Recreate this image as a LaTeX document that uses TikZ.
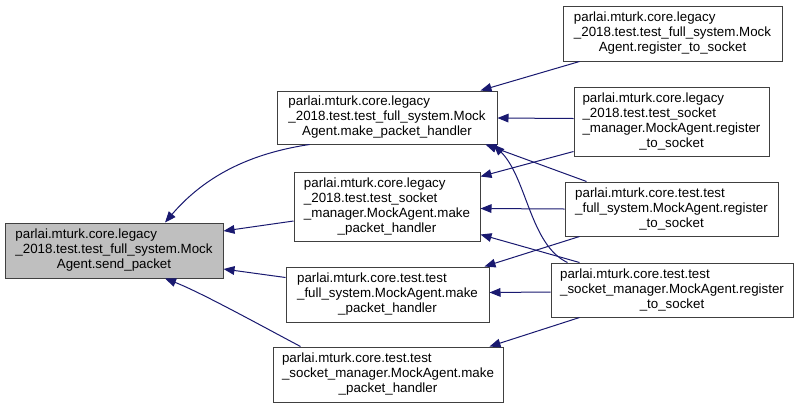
\documentclass[tikz,border=0pt]{standalone}
\usepackage{fontspec}
\setmainfont{Liberation Sans}
\usetikzlibrary{arrows.meta,calc}
\definecolor{edgeblue}{HTML}{191970}
\definecolor{boxline}{HTML}{404040}
\definecolor{boxfill}{HTML}{BFBFBF}
\newcommand{\labthree}[3]{\begin{tabular}{@{}l@{}}#1\\#2\\\multicolumn{1}{@{}c@{}}{#3}\end{tabular}}
\newcommand{\labfour}[4]{\begin{tabular}{@{}l@{}}#1\\#2\\#3\\\multicolumn{1}{@{}c@{}}{#4}\end{tabular}}
\begin{document}
\begin{tikzpicture}[x=0.75pt,y=-0.75pt,
  box/.style={draw=boxline, line width=0.75pt, fill=white, inner sep=0pt, anchor=center,
    font=\fontsize{10}{11.25}\selectfont},
  edge/.style={draw=edgeblue, line width=0.75pt, -{Triangle[length=8.25pt,width=6.5pt]}, fill=none}]
\useasboundingbox (0,0) rectangle (799,408);
\fill[white] (0,0) rectangle (799,408);

\node[box, fill=boxfill, minimum width=163.5pt, minimum height=41.25pt] (A) at (114,250.5)
  {\labthree{parlai.mturk.core.legacy}{\_2018.test.test\_full\_system.Mock}{Agent.send\_packet}};

\node[box, minimum width=165pt, minimum height=39.75pt] (B1) at (387,117.5)
  {\labthree{parlai.mturk.core.legacy}{\_2018.test.test\_full\_system.Mock}{Agent.make\_packet\_handler}};
\node[box, minimum width=139.5pt, minimum height=51.75pt] (B2) at (387,206.5)
  {\labfour{parlai.mturk.core.legacy}{\_2018.test.test\_socket}{\_manager.MockAgent.make}{\_packet\_handler}};
\node[box, minimum width=152.25pt, minimum height=41.25pt] (B3) at (387.5,294.5)
  {\labthree{parlai.mturk.core.test.test}{\_full\_system.MockAgent.make}{\_packet\_handler}};
\node[box, minimum width=172.5pt, minimum height=41.25pt] (B4) at (388,374.5)
  {\labthree{parlai.mturk.core.test.test}{\_socket\_manager.MockAgent.make}{\_packet\_handler}};

\node[box, minimum width=164.25pt, minimum height=41.25pt] (C1) at (672.5,33.5)
  {\labthree{parlai.mturk.core.legacy}{\_2018.test.test\_full\_system.Mock}{Agent.register\_to\_socket}};
\node[box, minimum width=146.25pt, minimum height=51.75pt] (C2) at (671.5,121.5)
  {\labfour{parlai.mturk.core.legacy}{\_2018.test.test\_socket}{\_manager.MockAgent.register}{\_to\_socket}};
\node[box, minimum width=159.75pt, minimum height=40.5pt] (C3) at (671.5,209)
  {\labthree{parlai.mturk.core.test.test}{\_full\_system.MockAgent.register}{\_to\_socket}};
\node[box, minimum width=181.5pt, minimum height=40.5pt] (C4) at (672,290)
  {\labthree{parlai.mturk.core.test.test}{\_socket\_manager.MockAgent.register}{\_to\_socket}};

% edges to A
\draw[edge] ($(B1.south west)+(33,0)$) .. controls (260,152) and (210,170) .. ($(A.north)+(51,0)$);
\draw[edge] ($(B2.west)+(0,14.5)$) -- ($(A.east)+(0,-19.5)$);
\draw[edge] ($(B3.north west)+(0,11)$) -- ($(A.east)+(0,18.5)$);
\draw[edge] ($(B4.north west)+(28,0)$) .. controls (260,325) and (200,292) .. ($(A.south)+(51,0)$);

% edges to B1
\draw[edge] ($(C1.south west)+(17,0)$) -- ($(B1.north east)+(-17,0)$);
\draw[edge] ($(C2.west)+(0,-3)$) -- ($(B1.east)+(0,0.5)$);
\draw[edge] ($(C3.north west)+(22,0)$) -- ($(B1.south east)+(-12,0)$);
\draw[edge] ($(C4.north west)+(17,0)$) .. controls (530,245) and (527,178) .. ($(B1.south east)+(-4,0)$);

% edges to B2
\draw[edge] ($(C2.south west)+(0,-5)$) -- ($(B2.north east)+(0,5)$);
\draw[edge] (C3.west) -- ($(B2.east)+(0,2)$);
\draw[edge] ($(C4.north west)+(29,0)$) -- ($(B2.south east)+(0,-7)$);

% edges to B3
\draw[edge] ($(C3.south west)+(15,0)$) -- ($(B3.north east)+(-5,0)$);
\draw[edge] ($(C4.west)+(0,2)$) -- ($(B3.east)+(0,-2)$);

% edges to B4
\draw[edge] ($(C4.south west)+(29,0)$) -- ($(B4.north east)+(-14,0)$);
\end{tikzpicture}
\end{document}
